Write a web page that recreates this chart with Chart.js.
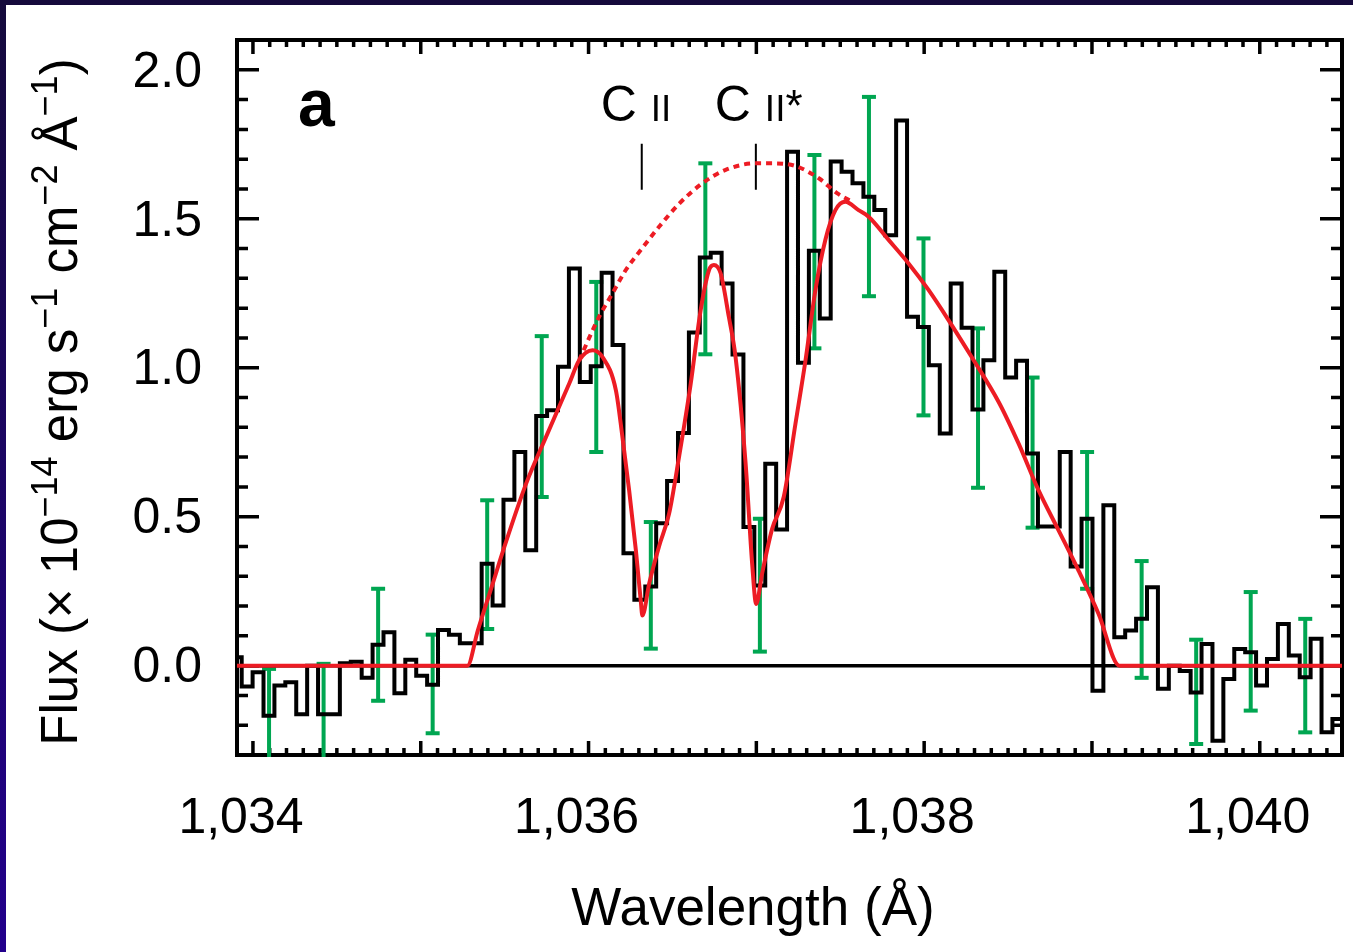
<!DOCTYPE html>
<html>
<head>
<meta charset="utf-8">
<title>Flux vs wavelength (a)</title>
<script src="https://cdn.jsdelivr.net/npm/chart.js@4"></script>
<style>
  html, body { margin: 0; padding: 0; }
  body { width: 1353px; height: 952px; position: relative; overflow: hidden; background: linear-gradient(#150a3c, #22008c); }
  #wrap { position: absolute; left: 6px; top: 5px; width: 1347px; height: 947px; background: #fff; }
</style>
</head>
<body>
<div id="wrap"><canvas id="flux-graph" width="1347" height="947"></canvas></div>
<script>
// --< Data >--
const xMin = 1033.905;
const xMax = 1040.49;
const yMin = -0.30;
const yMax = 2.10;
const xTickValues = [1034, 1036, 1038, 1040];
const yTickValues = [0.0, 0.5, 1.0, 1.5, 2.0];

// spectrum, 0.065 A bins, first bin starts left of the frame
const binStart = 1033.868;
const binWidth = 0.065;
const fluxBins = [
  0.028, -0.070, -0.022, -0.168, -0.067, -0.056, -0.163, 0.000, -0.163, -0.163,
  0.008, 0.013, -0.041, 0.070, 0.112, -0.093, 0.020, -0.034, -0.064, 0.120,
  0.104, 0.075, 0.075, 0.342, 0.202, 0.557, 0.717, 0.387, 0.838, 0.857,
  1.003, 1.333, 0.952, 1.005, 1.319, 1.076, 0.377, 0.221, 0.266, 0.478,
  0.620, 0.781, 1.118, 1.370, 1.386, 1.283, 1.044, 0.465, 0.269, 0.678,
  0.457, 1.725, 1.017, 1.393, 1.165, 1.692, 1.658, 1.619, 1.574, 1.529,
  1.445, 1.830, 1.171, 1.137, 1.008, 0.779, 1.283, 1.134, 0.860, 1.025,
  1.322, 0.967, 1.023, 0.712, 0.467, 0.467, 0.717, 0.333, 0.493, -0.084,
  0.538, 0.095, 0.118, 0.157, 0.263, -0.078, 0.000, -0.018, -0.090, 0.073,
  -0.252, -0.045, 0.056, 0.045, -0.067, 0.022, 0.140, 0.034, -0.039, 0.090,
  -0.224, -0.179
];

// error bars (every 5th bin)
const errWave = [
  1034.096, 1034.421, 1034.746, 1035.071, 1035.396, 1035.721, 1036.046, 1036.371, 1036.696, 1037.021,
  1037.346, 1037.671, 1037.996, 1038.321, 1038.646, 1038.971, 1039.296, 1039.621, 1039.946, 1040.271
];
const errLow = [
  -0.350, -0.350, -0.118, -0.227, 0.123, 0.566, 0.717, 0.057, 1.045, 0.047,
  1.065, 1.240, 0.840, 0.597, 0.463, 0.258, -0.041, -0.263, -0.151, -0.224
];
const errHigh = [
  -0.011, 0.006, 0.258, 0.104, 0.555, 1.106, 1.288, 0.482, 1.686, 0.493,
  1.714, 1.909, 1.434, 1.132, 0.967, 0.717, 0.351, 0.087, 0.247, 0.157
];

// fitted model with the two absorption lines
const modelWave = [
  1033.850, 1035.278, 1035.340, 1035.429, 1035.488, 1035.628, 1035.746, 1035.885, 1035.944, 1036.024,
  1036.083, 1036.163, 1036.202, 1036.242, 1036.282, 1036.311, 1036.321, 1036.361, 1036.420, 1036.480,
  1036.539, 1036.609, 1036.668, 1036.718, 1036.747, 1036.787, 1036.836, 1036.876, 1036.936, 1036.975,
  1036.999, 1037.034, 1037.094, 1037.163, 1037.233, 1037.293, 1037.352, 1037.411, 1037.471, 1037.530,
  1037.609, 1037.669, 1037.788, 1037.907, 1038.026, 1038.145, 1038.283, 1038.444, 1038.563, 1038.682,
  1038.801, 1038.920, 1039.039, 1039.164, 1040.550
];
const modelFlux = [
  0, 0, 0.118, 0.275, 0.381, 0.611, 0.767, 0.947, 1.025, 1.059,
  1.036, 0.924, 0.767, 0.588, 0.387, 0.218, 0.168, 0.275, 0.400, 0.510,
  0.700, 0.947, 1.193, 1.328, 1.345, 1.317, 1.171, 1.036, 0.678, 0.342,
  0.207, 0.308, 0.459, 0.566, 0.812, 1.025, 1.261, 1.429, 1.529, 1.557,
  1.529, 1.507, 1.429, 1.350, 1.261, 1.160, 1.036, 0.885, 0.745, 0.588,
  0.454, 0.319, 0.174, 0, 0
];

// unabsorbed profile (dotted)
const intrinsicWave = [
  1035.944, 1036.063, 1036.142, 1036.222, 1036.311, 1036.420, 1036.539, 1036.678,
  1036.817, 1036.995, 1037.094, 1037.233, 1037.372, 1037.483, 1037.570
];
const intrinsicFlux = [
  1.025, 1.171, 1.249, 1.328, 1.395, 1.473, 1.550, 1.619,
  1.664, 1.686, 1.686, 1.677, 1.636, 1.585, 1.557
];

// line markers
const lineNames = ["C", "C"];
const lineStar = ["", "*"];
const lineWave = [1036.317, 1036.997];
const markLow = 1.597;
const markHigh = 1.752;
// --</ Data >--

const green = 'rgb(0,166,81)';
const red = 'rgb(237,28,36)';
const FONT = '"Liberation Sans", Arial, Helvetica, sans-serif';

const histPoints = fluxBins.map((v, i) => ({ x: binStart + i * binWidth, y: v }));
histPoints.push({ x: binStart + fluxBins.length * binWidth, y: fluxBins[fluxBins.length - 1] });

const errSegments = [];
const errCaps = [];
errWave.forEach((w, i) => {
  errSegments.push({ x: w, y: errLow[i] }, { x: w, y: errHigh[i] }, { x: w, y: null });
  errCaps.push({ x: w, y: errLow[i] }, { x: w, y: errHigh[i] });
});

const markSegments = [];
lineWave.forEach(w => markSegments.push({ x: w, y: markLow }, { x: w, y: markHigh }, { x: w, y: null }));

// --< Frame, ticks and texts >--
function drawRuns(ctx, runs, x, y) {
  for (const r of runs) {
    ctx.font = r.font;
    ctx.fillText(r.t, x, y - (r.dy || 0));
    x += ctx.measureText(r.t).width;
  }
  return x;
}

function runsWidth(ctx, runs) {
  let w = 0;
  for (const r of runs) { ctx.font = r.font; w += ctx.measureText(r.t).width; }
  return w;
}

function noPadding(s) {
  s.paddingTop = 0; s.paddingBottom = 0; s.paddingLeft = 0; s.paddingRight = 0;
}

const frame = {
  id: 'frame',
  beforeDatasetsDraw(chart) {
    const { ctx, chartArea: a, scales: { x, y } } = chart;
    ctx.save();
    ctx.strokeStyle = '#000';
    ctx.lineWidth = 3.5;
    ctx.beginPath();
    for (let i = Math.ceil(x.min * 10 - 1e-6); i <= Math.floor(x.max * 10 + 1e-6); i++) {
      const px = x.getPixelForValue(i / 10);
      const len = i % 10 === 0 ? 14 : 7;
      ctx.moveTo(px, a.bottom); ctx.lineTo(px, a.bottom - len);
      ctx.moveTo(px, a.top); ctx.lineTo(px, a.top + len);
    }
    for (let i = Math.ceil(y.min * 10 - 1e-6); i <= Math.floor(y.max * 10 + 1e-6); i++) {
      const py = y.getPixelForValue(i / 10);
      const len = i % 5 === 0 ? 22 : 11;
      ctx.moveTo(a.left, py); ctx.lineTo(a.left + len, py);
      ctx.moveTo(a.right, py); ctx.lineTo(a.right - len, py);
    }
    ctx.stroke();
    ctx.lineWidth = 4;
    ctx.strokeRect(a.left, a.top, a.right - a.left, a.bottom - a.top);
    ctx.restore();
  }
};

const labels = {
  id: 'labels',
  afterDraw(chart) {
    const { ctx, chartArea: a, scales: { x } } = chart;
    ctx.save();
    ctx.fillStyle = '#000';
    ctx.textBaseline = 'alphabetic';
    ctx.textAlign = 'left';

    // panel letter
    ctx.font = `bold 66px ${FONT}`;
    ctx.fillText('a', a.left + 61, a.top + 86);

    // line labels
    lineWave.forEach((w, i) => {
      const px = x.getPixelForValue(w);
      drawRuns(ctx, [
        { t: lineNames[i] + ' ', font: `50px ${FONT}` },
        { t: 'II', font: `37px ${FONT}` },
        { t: lineStar[i], font: `44px ${FONT}` }
      ], px - 41, a.top + 81);
    });

    // x title
    ctx.font = `53px ${FONT}`;
    ctx.textAlign = 'center';
    ctx.fillText('Wavelength (Å)', 747, 920);
    ctx.textAlign = 'left';

    // y title with superscripts
    const main = `51px ${FONT}`;
    const sup = `36px ${FONT}`;
    const runs = [
      { t: 'Flux (× 10', font: main },
      { t: '−14', font: sup, dy: 20 },
      { t: ' erg s', font: main },
      { t: '−1', font: sup, dy: 20 },
      { t: ' cm', font: main },
      { t: '−2', font: sup, dy: 20 },
      { t: ' Å', font: main },
      { t: '−1', font: sup, dy: 20 },
      { t: ')', font: main }
    ];
    ctx.translate(71, 397);
    ctx.rotate(-Math.PI / 2);
    drawRuns(ctx, runs, -runsWidth(ctx, runs) / 2, 0);

    ctx.restore();
  }
};
// --</ Frame, ticks and texts >--

new Chart(document.getElementById('flux-graph'), {
  type: 'line',
  data: {
    datasets: [
      {
        label: 'Model',
        data: modelWave.map((w, i) => ({ x: w, y: modelFlux[i] })),
        borderColor: red,
        borderWidth: 4,
        pointRadius: 0,
        cubicInterpolationMode: 'monotone',
        order: 0
      },
      {
        label: 'Intrinsic',
        data: intrinsicWave.map((w, i) => ({ x: w, y: intrinsicFlux[i] })),
        borderColor: red,
        borderWidth: 4,
        borderDash: [6, 5],
        pointRadius: 0,
        cubicInterpolationMode: 'monotone',
        order: 1
      },
      {
        label: 'Markers',
        data: markSegments,
        borderColor: '#000',
        borderWidth: 2,
        pointRadius: 0,
        spanGaps: false,
        order: 2
      },
      {
        label: 'Flux',
        data: histPoints,
        borderColor: '#000',
        borderWidth: 4,
        stepped: true,
        pointRadius: 0,
        borderJoinStyle: 'miter',
        order: 3
      },
      {
        label: 'Zero',
        data: [{ x: xMin, y: 0 }, { x: xMax, y: 0 }],
        borderColor: '#000',
        borderWidth: 3.5,
        pointRadius: 0,
        order: 4
      },
      {
        label: 'Error caps',
        data: errCaps,
        showLine: false,
        pointStyle: 'line',
        pointRadius: 7,
        pointBorderWidth: 4,
        pointBorderColor: green,
        pointBackgroundColor: green,
        clip: { left: 0, top: 0, right: 0, bottom: 2 },
        order: 5
      },
      {
        label: 'Errors',
        data: errSegments,
        borderColor: green,
        borderWidth: 4,
        pointRadius: 0,
        spanGaps: false,
        clip: { left: 0, top: 0, right: 0, bottom: 2 },
        order: 6
      }
    ]
  },
  options: {
    responsive: false,
    animation: false,
    devicePixelRatio: 1,
    events: [],
    layout: { padding: { top: 35, right: 9, left: 0, bottom: 0 } },
    plugins: { legend: { display: false }, tooltip: { enabled: false } },
    scales: {
      x: {
        type: 'linear',
        min: xMin,
        max: xMax,
        grid: { display: false, drawTicks: false },
        border: { display: false },
        afterBuildTicks: s => { s.ticks = xTickValues.map(v => ({ value: v })); },
        afterFit: s => { s.height = 197; noPadding(s); },
        ticks: {
          color: '#000',
          font: { family: FONT, size: 50 },
          padding: 34,
          labelOffset: -12,
          maxRotation: 0,
          callback: v => v.toLocaleString('en-US')
        }
      },
      y: {
        type: 'linear',
        min: yMin,
        max: yMax,
        grid: { display: false, drawTicks: false },
        border: { display: false },
        afterBuildTicks: s => { s.ticks = yTickValues.map(v => ({ value: v })); },
        afterFit: s => { s.width = 231; noPadding(s); },
        ticks: {
          color: '#000',
          font: { family: FONT, size: 50 },
          padding: 35,
          labelOffset: 3,
          callback: v => v.toFixed(1)
        }
      }
    }
  },
  plugins: [frame, labels]
});
</script>
</body>
</html>
